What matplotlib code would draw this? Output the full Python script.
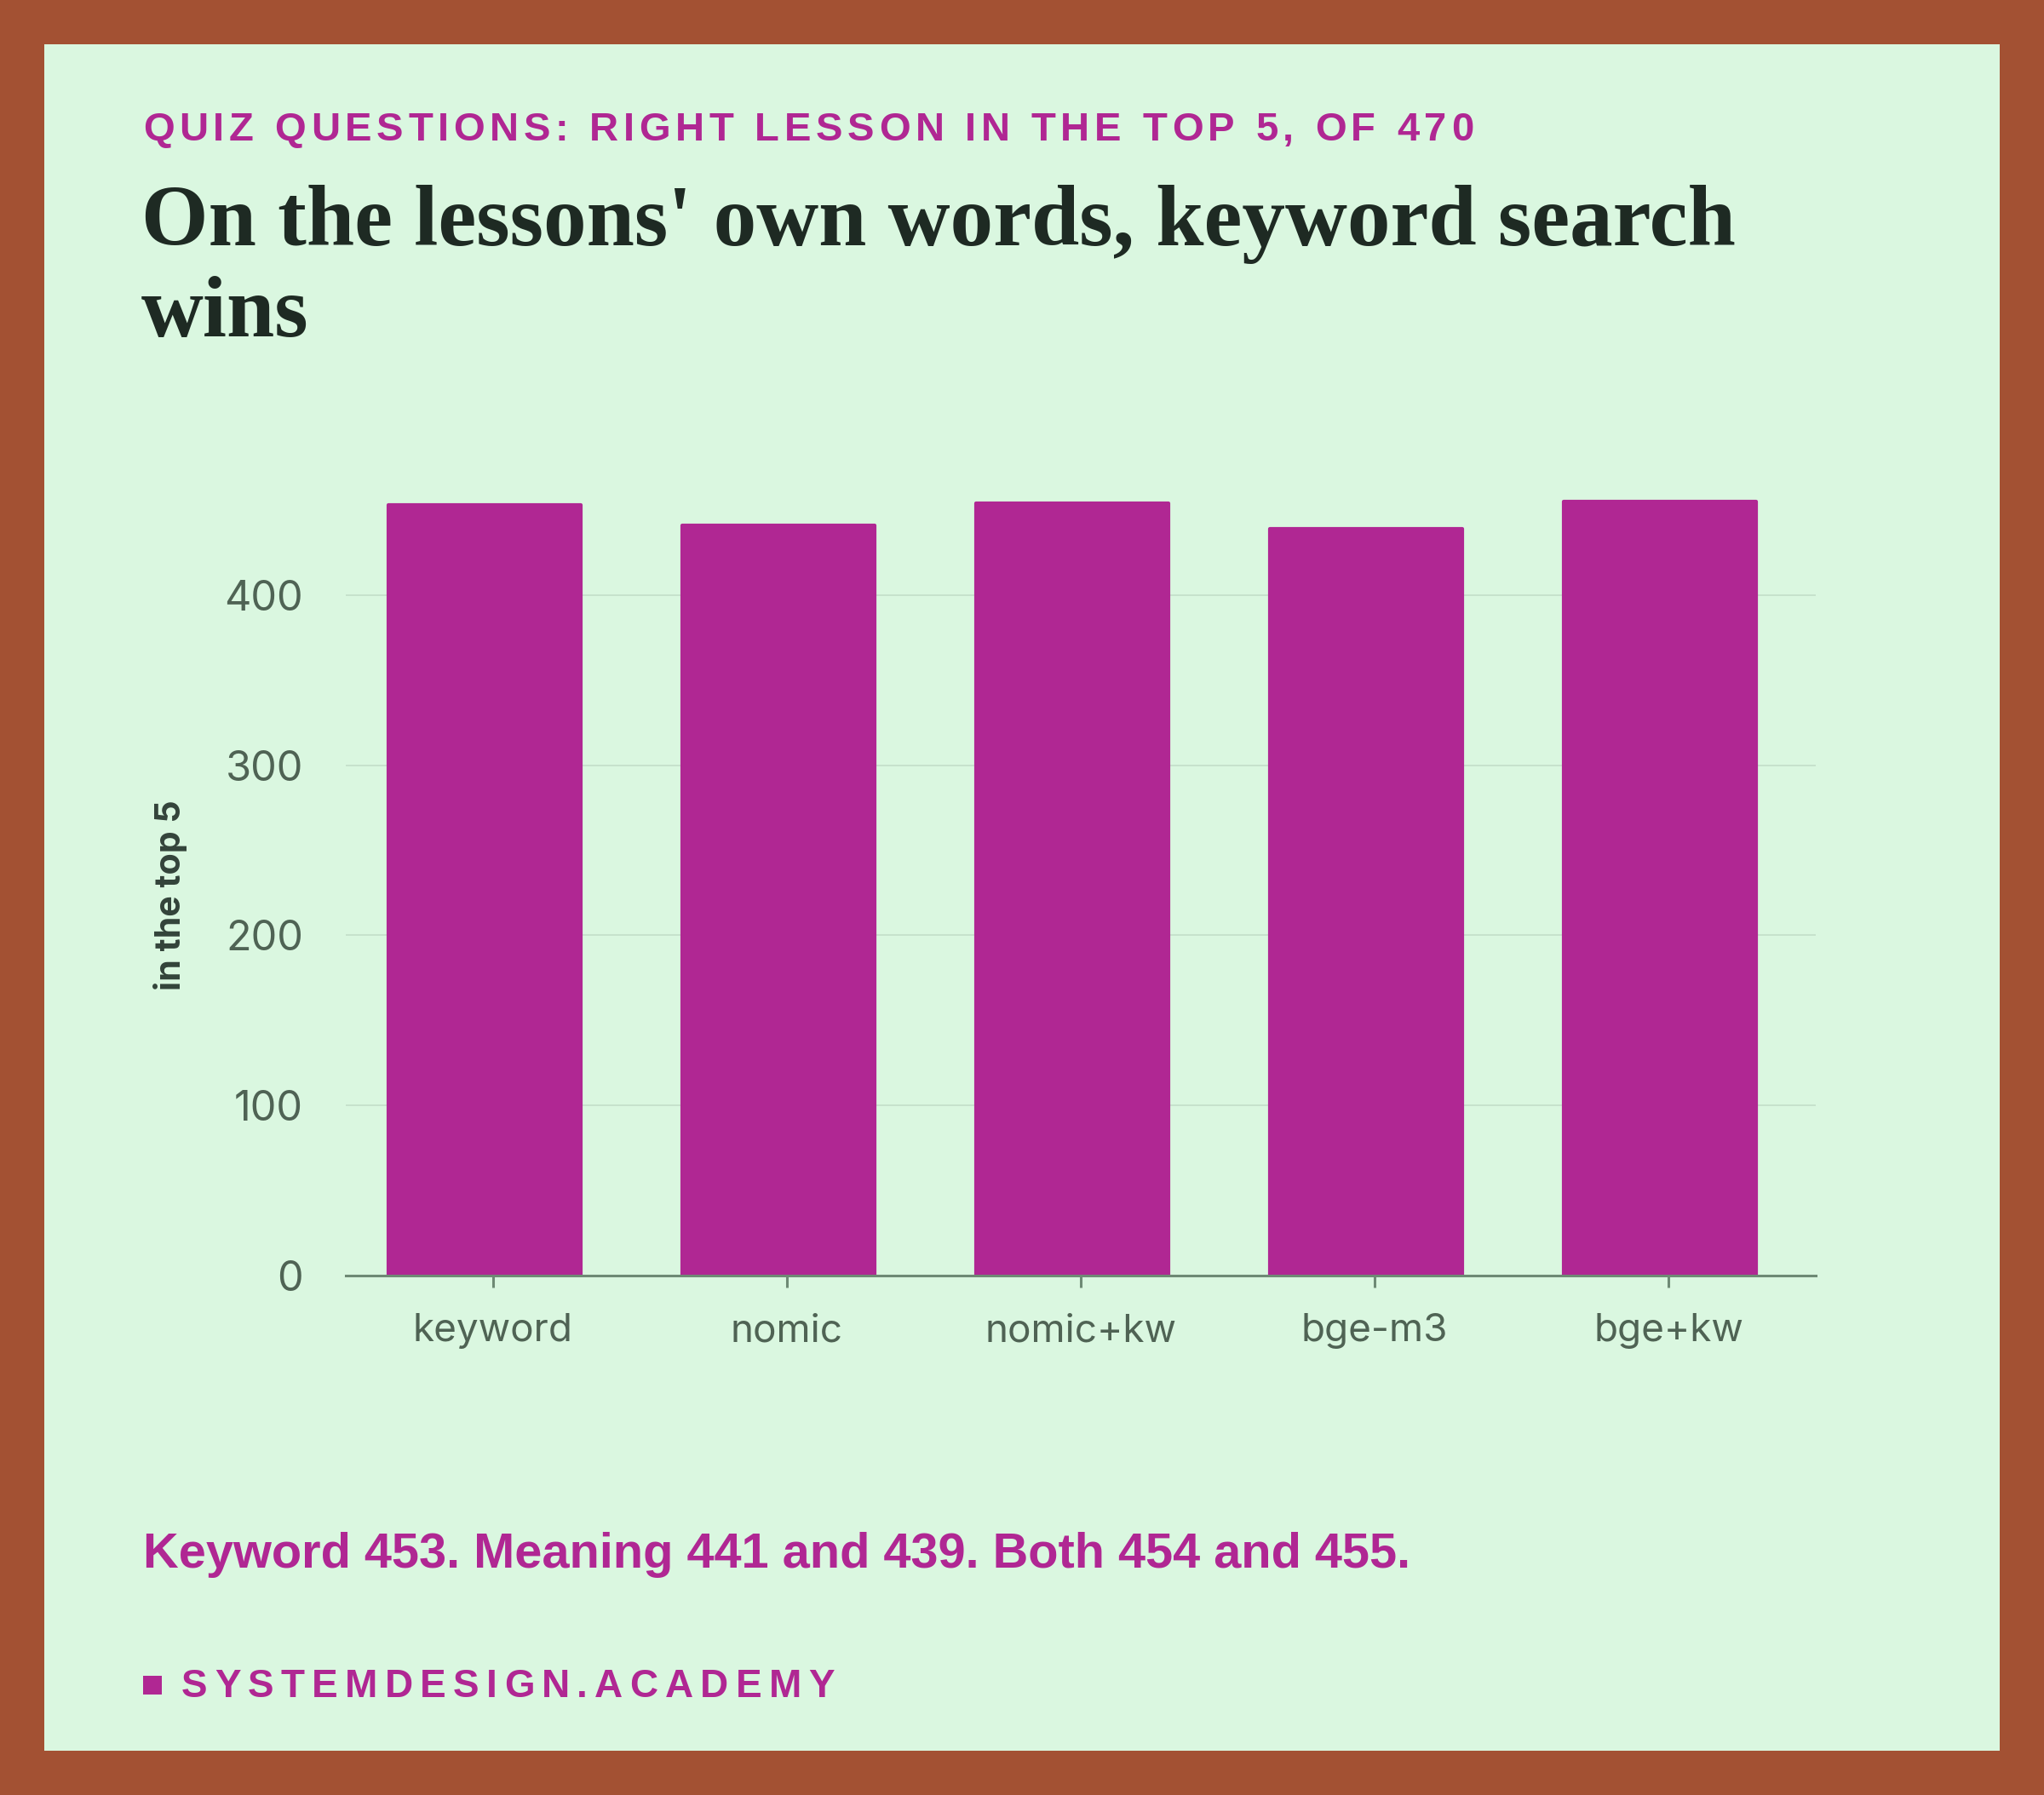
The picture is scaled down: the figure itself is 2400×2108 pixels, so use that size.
import matplotlib
matplotlib.use("Agg")
import matplotlib.pyplot as plt
import numpy as np
from matplotlib.patches import Rectangle

# data
methods = ["keyword", "nomic", "nomic+kw", "bge-m3", "bge+kw"]
in_top5 = [453, 441, 454, 439, 455]
yticks = [0, 100, 200, 300, 400]

kicker = "QUIZ QUESTIONS: RIGHT LESSON IN THE TOP 5, OF 470"
title = "On the lessons' own words, keyword search\nwins"
note = "Keyword 453. Meaning 441 and 439. Both 454 and 455."
footer = "SYSTEMDESIGN.ACADEMY"
ylabel = "in the top 5"

# colours
BORDER = "#A35133"
PANEL = "#DAF7E0"
MAGENTA = "#B02793"
DARK = "#1E2A23"
TICK = "#4F6354"
GRID = "#C3DEC8"
SPINE = "#6E8A75"

W, H, DPI = 2400, 2108, 200


def fx(x):
    return x / W


def fy(y):
    return 1 - y / H


fig = plt.figure(figsize=(W / DPI, H / DPI), dpi=DPI, facecolor=BORDER)
# light panel inside the brown frame (below the axes)
fig.patches.append(Rectangle((fx(52), fy(2056)), fx(2348) - fx(52), fy(52) - fy(2056),
                             transform=fig.transFigure, facecolor=PANEL, edgecolor="none", zorder=-5))
renderer = fig.canvas.get_renderer()


def tracked(x0, x1, y, s, size, color, family, weight="bold"):
    # draw text char by char, spread to fill x0..x1 (pixels)
    widths = []
    for ch in s:
        if ch == " ":
            widths.append(size * DPI / 72 * 0.28)
        else:
            t = fig.text(0, 0, ch, fontsize=size, family=family, weight=weight)
            widths.append(t.get_window_extent(renderer).width)
            t.remove()
    gap = (x1 - x0 - sum(widths)) / (len(s) - 1)
    x = x0
    for ch, w in zip(s, widths):
        if ch != " ":
            fig.text(fx(x), fy(y), ch, fontsize=size, family=family, weight=weight,
                     color=color, va="baseline", ha="left")
        x += w + gap


tracked(168, 1730, 165, kicker, 17, MAGENTA, "Liberation Sans")
fig.text(fx(166), fy(395), title, fontsize=36.4, family="Liberation Serif", weight="bold",
         color=DARK, va="baseline", ha="left", linespacing=1.2)

ax = fig.add_axes([fx(406), fy(1498), fx(2132) - fx(406), fy(559) - fy(1498)])
ax.set_facecolor("none")
pos = np.arange(len(methods))
# bars sit a touch left of the tick in the original
ax.bar(pos - 0.029, in_top5, width=0.655, color=MAGENTA, edgecolor=MAGENTA,
       linewidth=1.5, joinstyle="round", zorder=3)
ax.set_xlim(-0.5, len(methods) - 0.5)
ax.set_ylim(0, 470)
ax.set_yticks(yticks)
ax.set_xticks(pos)
ax.set_xticklabels(methods)
ax.grid(axis="y", color=GRID, linewidth=0.6, zorder=0)
for side in ["top", "right", "left"]:
    ax.spines[side].set_visible(False)
ax.spines["bottom"].set_color(SPINE)
ax.spines["bottom"].set_linewidth(1.1)
ax.spines["bottom"].set_zorder(4)
ax.tick_params(axis="y", length=0, pad=18, labelsize=17.5, labelcolor=TICK)
ax.tick_params(axis="x", length=5, width=1.1, color=SPINE, pad=11, labelsize=16.5, labelcolor=TICK)
for lab in ax.get_xticklabels() + ax.get_yticklabels():
    lab.set_family("Inter")
fig.text(fx(200), fy(1051), ylabel, rotation=90, fontsize=14.8, family="Inter", weight="bold",
         color="#33433A", ha="center", va="center")

fig.text(fx(168), fy(1841), note, fontsize=20.8, family="Liberation Sans", weight="bold",
         color=MAGENTA, va="baseline", ha="left")

fig.patches.append(Rectangle((fx(168), fy(1990)), fx(190) - fx(168), fy(1968) - fy(1990),
                             transform=fig.transFigure, facecolor=MAGENTA, edgecolor="none"))
tracked(213, 980, 1993, footer, 16.5, MAGENTA, "Liberation Sans")

fig.savefig("out.png", dpi=DPI, facecolor=BORDER)
